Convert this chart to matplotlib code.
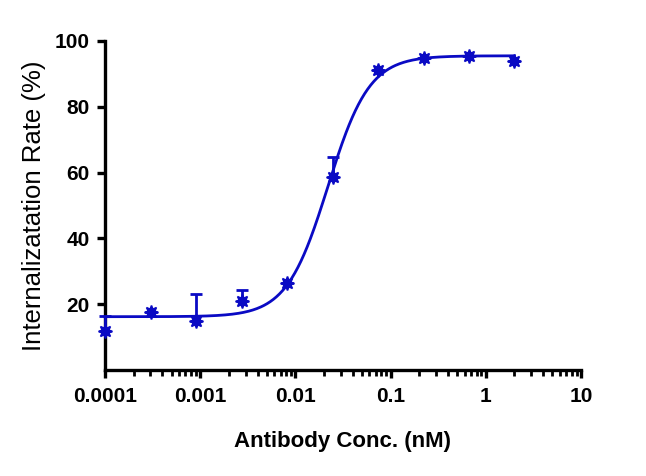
import numpy as np
import matplotlib
matplotlib.use("Agg")
import matplotlib.pyplot as plt
from matplotlib.ticker import LogLocator, FixedLocator, FixedFormatter, NullFormatter

# Data
conc = [0.0001, 0.000305, 0.000914, 0.00274, 0.00823, 0.0247, 0.0741, 0.222, 0.667, 2.0]
rate = [11.8, 17.7, 14.8, 21.0, 26.4, 58.8, 91.3, 94.9, 95.4, 93.9]
err_up = [4.5, 0.0, 8.4, 3.3, 0.0, 5.8, 0.0, 0.0, 0.0, 0.0]

# 4PL fit parameters (estimated from the drawn curve)
fit_bottom = 16.2
fit_top = 95.5
fit_ec50 = 0.022
fit_hill = 2.0

x_ticks = [0.0001, 0.001, 0.01, 0.1, 1, 10]
x_ticklabels = ["0.0001", "0.001", "0.01", "0.1", "1", "10"]
y_ticks = [20, 40, 60, 80, 100]

color = "#0A0AC4"
plt.rcParams['font.family'] = ['Liberation Sans', 'DejaVu Sans']

fig = plt.figure(figsize=(6.46, 4.76), dpi=100)
ax = fig.add_axes([0.1625, 0.2227, 0.8994 - 0.1625, 0.9139 - 0.2227])

xs = np.logspace(np.log10(conc[0]), np.log10(conc[-1]), 400)
ys = fit_bottom + (fit_top - fit_bottom) / (1 + (fit_ec50 / xs) ** fit_hill)
ax.plot(xs, ys, color=color, lw=2.0, zorder=2, clip_on=False)

lower = np.zeros(len(err_up))
eb = ax.errorbar(conc, rate, yerr=[lower, err_up], fmt='none', ecolor=color,
                 elinewidth=2.0, capsize=4.5, capthick=2.0, zorder=3)
for art in eb.get_children():
    art.set_clip_on(False)
ax.plot(conc, rate, linestyle='none', marker='o', markersize=6.5,
        color=color, markeredgewidth=0, zorder=4, clip_on=False)
ax.plot(conc, rate, linestyle='none', marker=(8, 1, 0), markersize=10,
        color=color, markeredgewidth=1.2, zorder=4, clip_on=False)

ax.set_xscale('log')
ax.set_xlim(0.0001, 10)
ax.set_ylim(0, 100)
ax.xaxis.set_major_locator(FixedLocator(x_ticks))
ax.xaxis.set_major_formatter(FixedFormatter(x_ticklabels))
ax.xaxis.set_minor_locator(LogLocator(base=10, subs=np.arange(2, 10)))
ax.xaxis.set_minor_formatter(NullFormatter())
ax.set_yticks(y_ticks)
ax.set_yticklabels([str(v) for v in y_ticks])

for s in ['top', 'right']:
    ax.spines[s].set_visible(False)
for s in ['left', 'bottom']:
    ax.spines[s].set_linewidth(2.4)
ax.tick_params(axis='both', which='major', direction='out', length=6, width=2.4,
               labelsize=15)
ax.tick_params(axis='x', which='major', pad=6)
ax.tick_params(axis='y', which='major', pad=5)
ax.tick_params(axis='x', which='minor', direction='out', length=4, width=2.0)
for lab in ax.get_xticklabels() + ax.get_yticklabels():
    lab.set_fontweight('bold')

ax.set_xlabel("Antibody Conc. (nM)", fontsize=16, fontweight='bold', labelpad=18)
ax.set_ylabel("Internalizatation Rate (%)", fontsize=18.5, labelpad=6)

fig.savefig("out.png", dpi=100)
